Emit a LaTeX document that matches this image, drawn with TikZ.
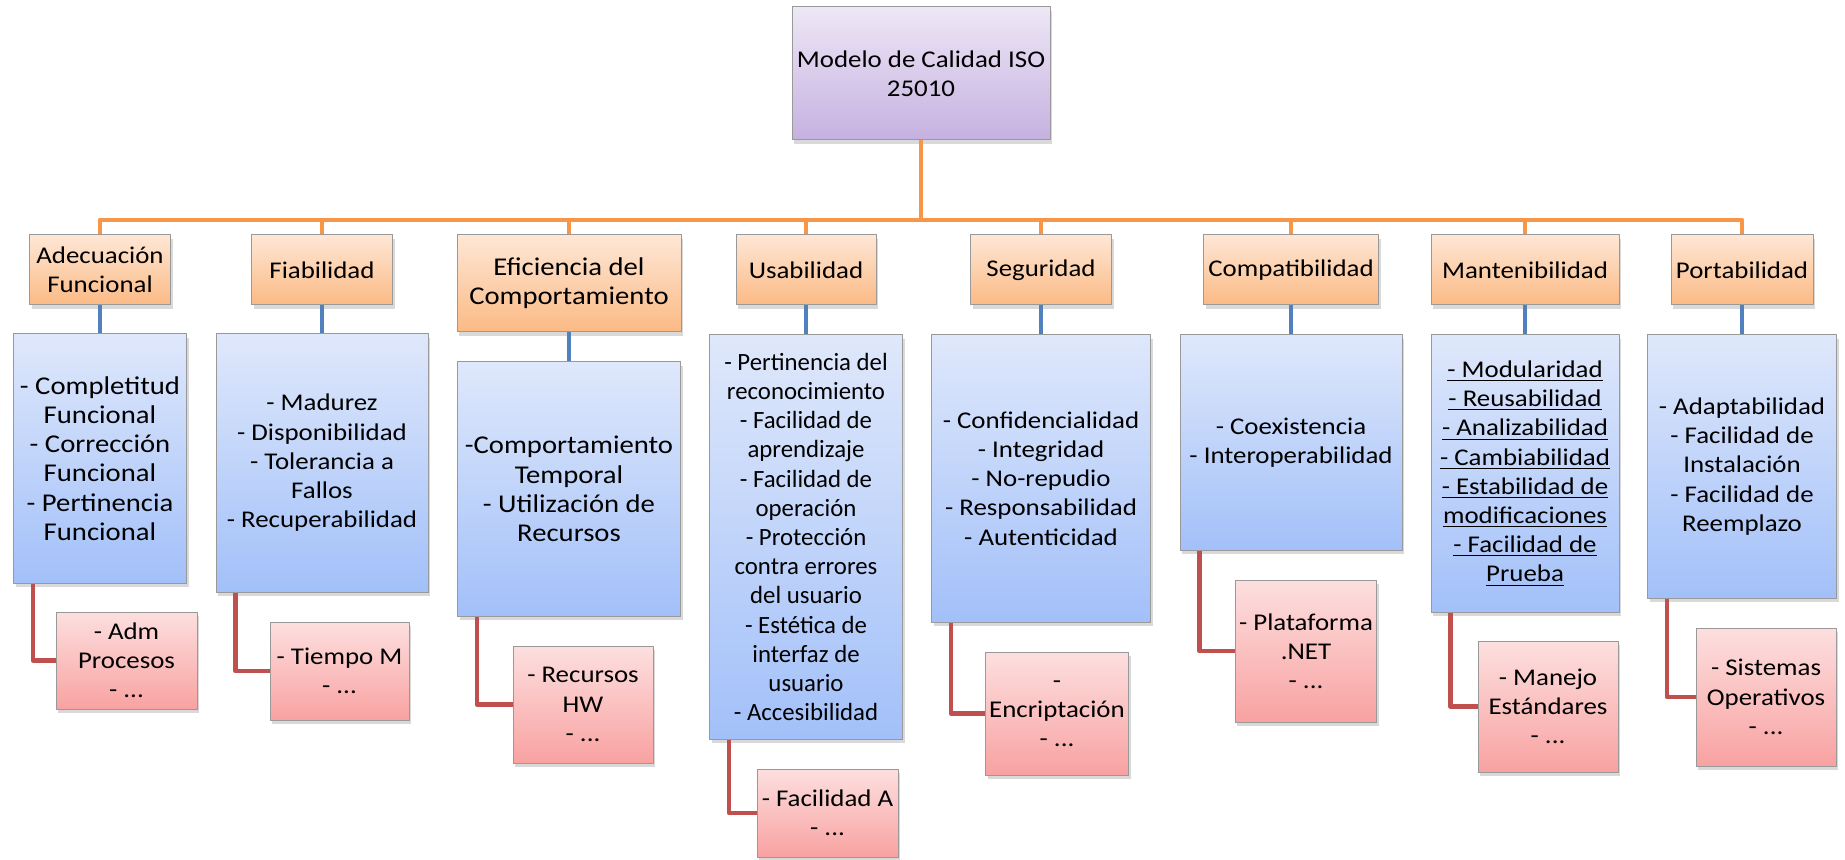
\documentclass[tikz,border=0pt]{standalone}
\usepackage{fontspec}
\setmainfont[FakeStretch=1.12]{Carlito}
\newfontfamily\plainfont{Carlito}
\usetikzlibrary{shadows}

\definecolor{purTop}{HTML}{EEE7F6}
\definecolor{purBot}{HTML}{C5B1E0}
\definecolor{oraTop}{HTML}{FEE7D6}
\definecolor{oraBot}{HTML}{FBBA84}
\definecolor{bluTop}{HTML}{DFE8FB}
\definecolor{bluBot}{HTML}{A2C0F9}
\definecolor{redTop}{HTML}{FDDFDF}
\definecolor{redBot}{HTML}{F8A2A1}
\definecolor{oraLine}{HTML}{F79646}
\definecolor{bluLine}{HTML}{4F81BD}
\definecolor{redLine}{HTML}{C0504D}

\begin{document}
\begin{tikzpicture}[x=0.5pt, y=-0.5pt, font=\fontsize{12}{14.6}\selectfont, line join=round]
      \tikzstyle{box}=[rectangle, draw=black!40, line width=0.5pt, align=center, inner sep=2pt,
        drop shadow={opacity=0.3, shadow xshift=1.2pt, shadow yshift=-1.8pt}]
      \tikzstyle{rootbox}=[box, top color=purTop, bottom color=purBot]
      \tikzstyle{catbox}=[box, top color=oraTop, bottom color=oraBot, minimum height=35pt]
      \tikzstyle{subbox}=[box, top color=bluTop, bottom color=bluBot]
      \tikzstyle{exbox}=[box, top color=redTop, bottom color=redBot]
      \tikzstyle{bigtext}=[font=\fontsize{12.8}{14.6}\selectfont]
      \tikzstyle{oraline}=[draw=oraLine, line width=2.4pt]
      \tikzstyle{bluline}=[draw=bluLine, line width=2.4pt]
      \tikzstyle{redline}=[draw=redLine, line width=2.4pt]
      \useasboundingbox (0,0) rectangle (1845,860);

      % raiz
      \node[rootbox, minimum width=129pt, minimum height=66.5pt] (root) at (921,73.5) {Modelo de Calidad ISO\\25010};
      \coordinate (bus) at (0,220);

      % caracteristicas
      \node[catbox, minimum width=70.5pt] (oA) at (100,270) {Adecuación\\Funcional};
      \node[catbox, minimum width=70.5pt] (oB) at (322,270) {Fiabilidad};
      \node[catbox, bigtext, minimum width=112pt, minimum height=48.5pt] (oC) at (569,283.5) {Eficiencia del\\Comportamiento};
      \node[catbox, minimum width=70pt] (oD) at (806,270) {Usabilidad};
      \node[catbox, minimum width=70.5pt] (oE) at (1041,270) {Seguridad};
      \node[catbox, minimum width=87.5pt] (oF) at (1291,270) {Compatibilidad};
      \node[catbox, minimum width=94pt] (oG) at (1525,270) {Mantenibilidad};
      \node[catbox, minimum width=71pt] (oH) at (1742,270) {Portabilidad};

      % subcaracteristicas
      \node[subbox, bigtext, minimum width=86.5pt, minimum height=124.5pt] (bA) at (100,458.5)
        {- Completitud\\Funcional\\- Corrección\\Funcional\\- Pertinencia\\Funcional};
      \node[subbox, minimum width=106pt, minimum height=129pt] (bB) at (322,463)
        {- Madurez\\- Disponibilidad\\- Tolerancia a\\Fallos\\- Recuperabilidad};
      \node[subbox, bigtext, minimum width=111.5pt, minimum height=127pt] (bC) at (569,489)
        {-Comportamiento\\Temporal\\- Utilización de\\Recursos};
      \node[subbox, font=\plainfont\fontsize{12.4}{14.6}\selectfont, minimum width=96.5pt, minimum height=202pt] (bD) at (806,537)
        {- Pertinencia del\\reconocimiento\\- Facilidad de\\aprendizaje\\- Facilidad de\\operación\\- Protección\\contra errores\\del usuario\\- Estética de\\interfaz de\\usuario\\- Accesibilidad};
      \node[subbox, minimum width=109.5pt, minimum height=143.5pt] (bE) at (1041,478.5)
        {- Confidencialidad\\- Integridad\\- No-repudio\\- Responsabilidad\\- Autenticidad};
      \node[subbox, minimum width=111pt, minimum height=107.5pt] (bF) at (1291,442.5)
        {- Coexistencia\\- Interoperabilidad};
      \node[subbox, minimum width=94pt, minimum height=138.5pt] (bG) at (1525,473.5)
        {\underline{- Modularidad}\\\underline{- Reusabilidad}\\\underline{- Analizabilidad}\\\underline{- Cambiabilidad}\\\underline{- Estabilidad de}\\\underline{modificaciones}\\\underline{- Facilidad de}\\\underline{Prueba}};
      \node[subbox, minimum width=94.5pt, minimum height=131.5pt] (bH) at (1742,466.5)
        {- Adaptabilidad\\- Facilidad de\\Instalación\\- Facilidad de\\Reemplazo};

      % ejemplos
      \node[exbox, minimum width=70.5pt, minimum height=48.5pt] (rA) at (126.5,660.5) {- Adm\\Procesos\\- ...};
      \node[exbox, minimum width=69.5pt, minimum height=49pt] (rB) at (339.5,671) {- Tiempo M\\- ...};
      \node[exbox, minimum width=70pt, minimum height=58.5pt] (rC) at (583,704.5) {- Recursos\\HW\\- ...};
      \node[exbox, minimum width=70.5pt, minimum height=44pt] (rD) at (827.5,813) {- Facilidad A\\- ...};
      \node[exbox, minimum width=70pt, minimum height=61.5pt] (rE) at (1057,713.5) {-\\Encriptación\\- ...};
      \node[exbox, minimum width=70pt, minimum height=71pt] (rF) at (1306,651) {- Plataforma\\.NET\\- ...};
      \node[exbox, minimum width=70pt, minimum height=65.5pt] (rG) at (1548,706.5) {- Manejo\\Estándares\\- ...};
      \node[exbox, minimum width=70pt, minimum height=69pt] (rH) at (1766,697) {- Sistemas\\Operativos\\- ...};

      % conectores
      \draw[oraline] (root.south) -- (root.south |- bus);
      \draw[oraline] (oA.north) -- (oA.north |- bus) -- (oH.north |- bus) -- (oH.north);
      \foreach \n in {oB,oC,oD,oE,oF,oG}
        \draw[oraline] (\n.north) -- (\n.north |- bus);
      \path
      (oA) edge[bluline] (bA)
      (oB) edge[bluline] (bB)
      (oC) edge[bluline] (bC)
      (oD) edge[bluline] (bD)
      (oE) edge[bluline] (bE)
      (oF) edge[bluline] (bF)
      (oG) edge[bluline] (bG)
      (oH) edge[bluline] (bH);
      \foreach \b/\r in {bA/rA,bB/rB,bC/rC,bD/rD,bE/rE,bF/rF,bG/rG,bH/rH}
        \draw[redline] ([xshift=10pt]\b.south west) |- (\r.west);
    \end{tikzpicture}
\end{document}
